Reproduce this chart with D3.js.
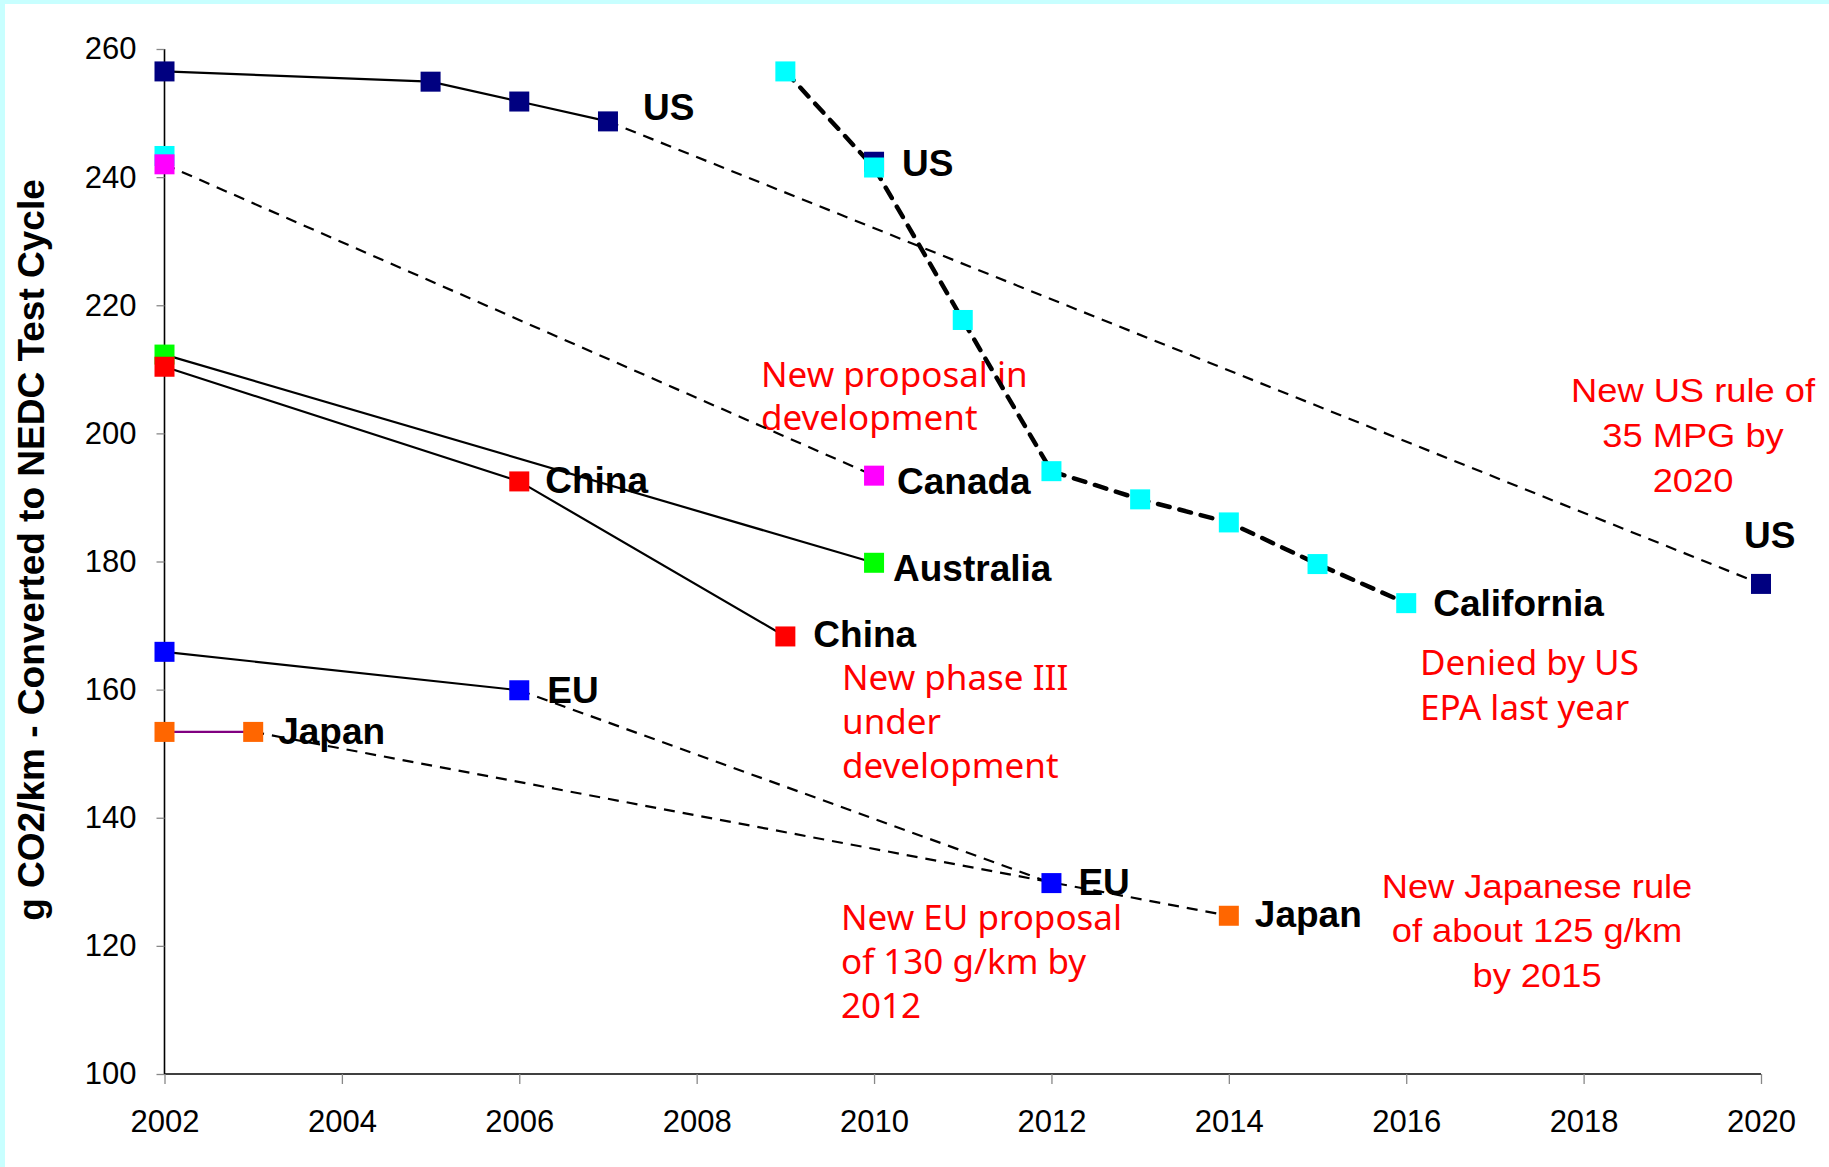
<!DOCTYPE html>
<html>
<head>
<meta charset="utf-8">
<script src="https://cdn.jsdelivr.net/npm/d3@7"></script>
<style>
  body { margin: 0; background: #fff; }
  text { font-family: "Liberation Sans", Arial, sans-serif; }
</style>
</head>
<body>
<svg id="chart"></svg>
<script>
var W = 1829, H = 1167;

// values, [year, g CO2/km]
var usHistory   = [[2002, 256.5], [2005, 254.9], [2006, 251.8], [2007, 248.7]];
var usRule      = [[2007, 248.7], [2020, 176.5]];
var usProposal  = [[2010, 242.4]];
var california  = [[2002, 243.3], [2009, 256.5], [2010, 241.5], [2011, 217.7], [2012, 194.1],
                   [2013, 189.7], [2014, 186.1], [2015, 179.6], [2016, 173.5]];
var canada      = [[2002, 242.0], [2010, 193.4]];
var australia   = [[2002, 212.3], [2010, 179.8]];
var china       = [[2002, 210.4], [2006, 192.5], [2009, 168.3]];
var eu          = [[2002, 165.9], [2006, 159.9], [2012, 129.8]];
var japan       = [[2002, 153.4], [2003, 153.4], [2014, 124.7]];

var xTicks = [2002, 2004, 2006, 2008, 2010, 2012, 2014, 2016, 2018, 2020];
var yTicks = [100, 120, 140, 160, 180, 200, 220, 240, 260];

var yTitle = "g CO2/km  - Converted to NEDC Test Cycle";

var labelText = ["US", "US", "US", "China", "Canada", "Australia", "China", "California", "EU", "Japan", "EU", "Japan"];
var labelAt   = [usHistory[3], usProposal[0], usRule[1], china[1], canada[1], australia[1], china[2],
                 california[8], eu[1], japan[1], eu[2], japan[2]];

var notesTahoma = [
  ["New proposal in", "development"],
  ["New phase III", "under", "development"],
  ["Denied by US", "EPA last year"],
  ["New EU proposal", "of 130 g/km by", "2012"]
];
var notesArial = [
  ["New US rule of", "35 MPG by", "2020"],
  ["New Japanese rule", "of about 125 g/km", "by 2015"]
];

var svg = d3.select("#chart").attr("width", W).attr("height", H);

// light cyan frame on top and left
svg.append("rect").attr("width", W).attr("height", H).attr("fill", "#c8ffff");
svg.append("rect").attr("x", 5).attr("y", 4).attr("width", W - 5).attr("height", H - 4).attr("fill", "#fff");

var x = d3.scaleLinear().domain([2002, 2020]).range([164.5, 1761]);
var y = d3.scaleLinear().domain([100, 260]).range([1074, 49]);

// axes
var yAxis = svg.append("g").attr("transform", "translate(" + x(2002) + ",0)")
  .call(d3.axisLeft(y).tickValues(yTicks).tickSize(8).tickPadding(20));
var xAxis = svg.append("g").attr("transform", "translate(0," + y(100) + ")")
  .call(d3.axisBottom(x).tickValues(xTicks).tickFormat(d3.format("d")).tickSize(10).tickPadding(26));

[yAxis, xAxis].forEach(function(a) {
  a.select(".domain").attr("stroke", "#000").attr("stroke-width", 1.6);
  a.selectAll(".tick line").attr("stroke", "#888").attr("stroke-width", 1.3);
  a.selectAll(".tick text").attr("fill", "#000").style("font-size", "31px")
    .style("font-family", "'Liberation Sans', Arial, sans-serif");
});
yAxis.select(".domain").attr("d", "M0," + y(260) + "V" + y(100));
xAxis.select(".domain").attr("d", "M" + x(2002) + ",0H" + x(2020));

svg.append("text")
  .attr("transform", "translate(44,550) rotate(-90)")
  .attr("text-anchor", "middle")
  .style("font-size", "37px").style("font-weight", "bold")
  .text(yTitle);

// red notes
var tahomaPos = [[761, 387, 43], [842, 690, 44], [1420, 675, 45], [841, 930, 44]];
notesTahoma.forEach(function(lines, i) {
  var p = tahomaPos[i];
  var t = svg.append("text").attr("fill", "#ff0000")
    .style("font-family", "'Noto Sans', 'DejaVu Sans', sans-serif").style("font-size", "35px");
  lines.forEach(function(l, j) {
    t.append("tspan").attr("x", p[0]).attr("y", p[1] + j * p[2]).text(l);
  });
});

var arialPos = [[1693, 402, 45], [1537, 898, 44.5]];
notesArial.forEach(function(lines, i) {
  var p = arialPos[i];
  var g = svg.append("g").attr("transform", "translate(" + p[0] + "," + p[1] + ") scale(1.1,1)");
  var t = g.append("text").attr("fill", "#ff0000").attr("text-anchor", "middle").style("font-size", "33px");
  lines.forEach(function(l, j) {
    t.append("tspan").attr("x", 0).attr("y", j * p[2]).text(l);
  });
});

// series labels
var nudge = [[35, -1], [28, 14], [-17, -36], [26, 12], [23, 18], [19, 18], [28, 11], [27, 13], [28, 13], [25, 12], [27, 12], [26, 11]];
labelText.forEach(function(t, i) {
  svg.append("text")
    .attr("x", x(labelAt[i][0]) + nudge[i][0])
    .attr("y", y(labelAt[i][1]) + nudge[i][1])
    .style("font-size", "37px").style("font-weight", "bold")
    .text(t);
});

// connecting lines
var line = d3.line().x(function(d) { return x(d[0]); }).y(function(d) { return y(d[1]); });
var styles = {
  solid:  {stroke: "#000", width: 2.2, dash: null},
  dash:   {stroke: "#000", width: 2.2, dash: "11,8"},
  thick:  {stroke: "#000", width: 4.5, dash: "12,10"},
  purple: {stroke: "#800080", width: 2.2, dash: null}
};
var lines = [
  [usHistory, "solid"], [usRule, "dash"], [california.slice(1), "thick"],
  [canada, "dash"], [australia, "solid"], [china, "solid"],
  [eu.slice(0, 2), "solid"], [eu.slice(1), "dash"],
  [japan.slice(0, 2), "purple"], [japan.slice(1), "dash"]
];
lines.forEach(function(l) {
  var s = styles[l[1]];
  svg.append("path").datum(l[0])
    .attr("d", line)
    .attr("fill", "none")
    .attr("stroke", s.stroke)
    .attr("stroke-width", s.width)
    .attr("stroke-dasharray", s.dash)
    .attr("stroke-linecap", l[1] == "thick" ? "round" : "butt");
});

// square markers
var markerSets = [
  [usHistory.concat(usProposal, usRule.slice(1)), "#000080"],
  [california, "#00ffff"],
  [canada, "#ff00ff"],
  [australia, "#00ff00"],
  [china, "#ff0000"],
  [eu, "#0000ff"],
  [japan, "#ff6600"]
];
var m = 20;
markerSets.forEach(function(ms) {
  svg.append("g").selectAll("rect").data(ms[0]).enter().append("rect")
    .attr("x", function(d) { return x(d[0]) - m / 2; })
    .attr("y", function(d) { return y(d[1]) - m / 2; })
    .attr("width", m).attr("height", m)
    .attr("fill", ms[1]);
});
</script>
</body>
</html>
